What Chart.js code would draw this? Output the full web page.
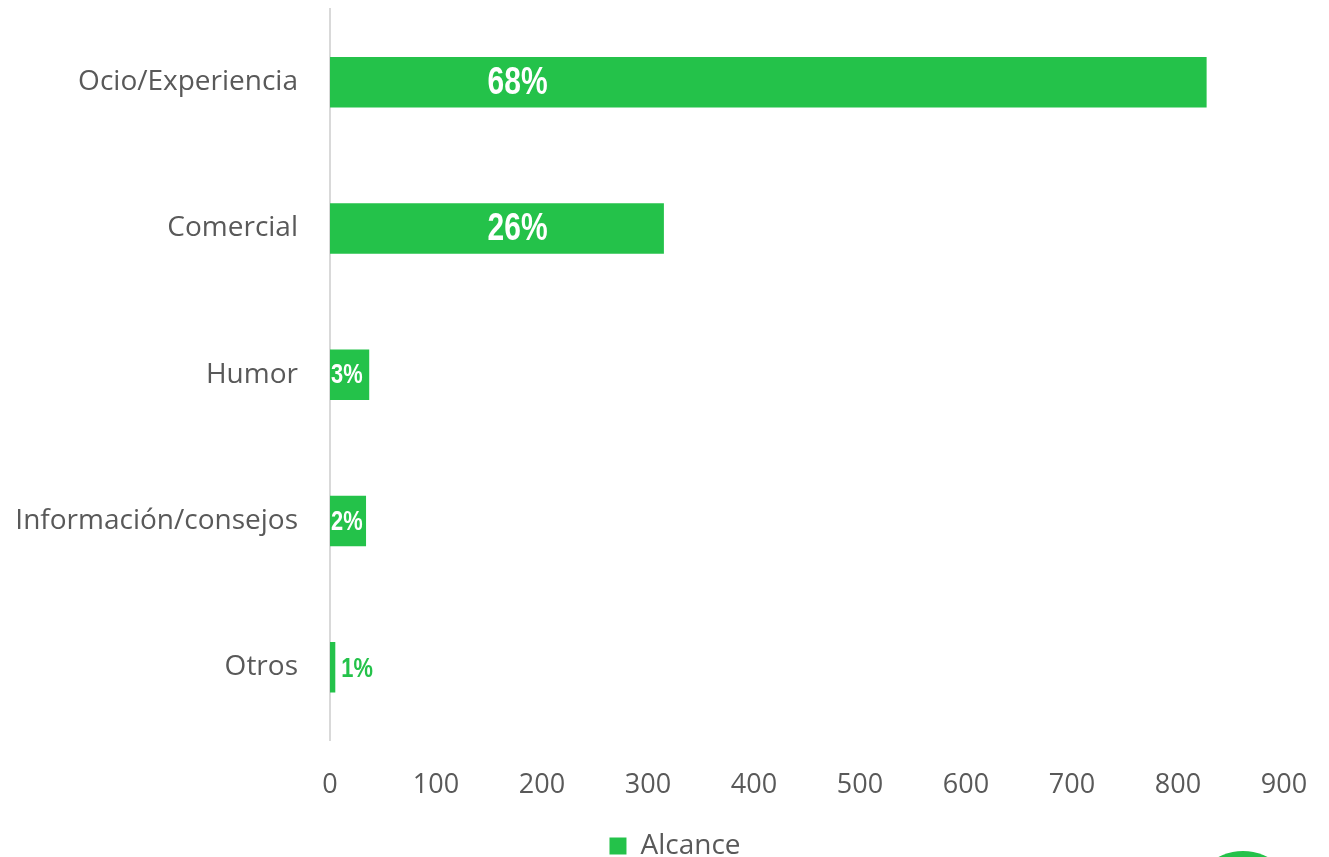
<!DOCTYPE html>
<html>
<head>
<meta charset="utf-8">
<script src="https://cdn.jsdelivr.net/npm/chart.js@4.4.1/dist/chart.umd.min.js"></script>
<style>
  html, body { margin: 0; padding: 0; background: #fff; overflow: hidden; }
  #wrap { position: relative; width: 1329px; height: 857px; }
  #deco { position: absolute; left: 1190px; top: 851px; width: 106px; height: 106px; border-radius: 50%; background: #24C24A; }
</style>
</head>
<body>
<div id="wrap">
  <canvas id="c" width="1329" height="857"></canvas>
  <div id="deco"></div>
</div>
<script>
const categories = ["Ocio/Experiencia", "Comercial", "Humor", "Información/consejos", "Otros"];
const alcance = [827, 315, 37, 34, 5];
const percentLabels = ["68%", "26%", "3%", "2%", "1%"];
const xTicks = [0, 100, 200, 300, 400, 500, 600, 700, 800, 900];
const seriesName = "Alcance";

const GREEN = "#24C24A";
const TEXT = "#595959";
const FAMILY = "'Open Sans', sans-serif";
const LABEL_FAMILY = "'Liberation Sans', Arial, sans-serif";
const LABEL_ANCHOR = 177;
const LEGEND_SHIFT = 33;

function drawSquished(ctx, txt, x, y, size, scaleX, align, color) {
  ctx.save();
  ctx.font = "bold " + size + "px " + LABEL_FAMILY;
  ctx.textBaseline = 'middle';
  ctx.fillStyle = color;
  const w = ctx.measureText(txt).width * scaleX;
  let left = x;
  if (align === 'center') left = x - w / 2;
  ctx.translate(left, y);
  ctx.scale(scaleX, 1);
  ctx.textAlign = 'left';
  ctx.fillText(txt, 0, 0);
  ctx.restore();
  return w;
}

const labelPlugin = {
  id: 'barLabels',
  afterLayout(chart) {
    if (chart.legend) {
      chart.legend.left += LEGEND_SHIFT;
      chart.legend.right += LEGEND_SHIFT;
    }
  },
  afterDatasetsDraw(chart) {
    const ctx = chart.ctx;
    const meta = chart.getDatasetMeta(0);
    const xs = chart.scales.x;
    meta.data.forEach((bar, i) => {
      const txt = percentLabels[i];
      const barW = bar.x - bar.base;
      ctx.save();
      ctx.font = "bold 28px " + LABEL_FAMILY;
      const smallW = ctx.measureText(txt).width * 0.78;
      ctx.restore();
      if (barW > 150) {
        drawSquished(ctx, txt, xs.getPixelForValue(LABEL_ANCHOR), bar.y + 1, 39, 0.77, 'center', '#fff');
      } else if (barW >= smallW) {
        drawSquished(ctx, txt, bar.base + 1, bar.y + 1, 28, 0.78, 'left', '#fff');
      } else {
        drawSquished(ctx, txt, bar.x + 6, bar.y + 2, 28, 0.78, 'left', GREEN);
      }
    });
  }
};

new Chart(document.getElementById('c'), {
  type: 'bar',
  data: {
    labels: categories,
    datasets: [{
      label: seriesName,
      data: alcance,
      backgroundColor: GREEN,
      borderWidth: 0,
      barPercentage: 0.69,
      categoryPercentage: 0.5
    }]
  },
  options: {
    indexAxis: 'y',
    responsive: false,
    animation: false,
    layout: { padding: { left: 0, right: 45, top: 9, bottom: -13 } },
    plugins: {
      legend: {
        position: 'bottom',
        labels: {
          color: TEXT,
          font: { family: FAMILY, size: 28 },
          boxWidth: 17, boxHeight: 17, padding: 0
        }
      },
      tooltip: { enabled: false }
    },
    scales: {
      x: {
        min: 0, max: 900,
        afterBuildTicks(s) { s.ticks = xTicks.map(v => ({ value: v })); },
        afterFit(s) { s.height = 91.5; },
        grid: { display: false, drawTicks: true, tickLength: 28.5 },
        border: { display: false },
        ticks: { color: TEXT, font: { family: FAMILY, size: 27 }, padding: 0 }
      },
      y: {
        afterFit(s) { s.width = 330; },
        grid: { display: false, drawTicks: true, tickLength: 32 },
        border: { display: true, color: '#d9d9d9', width: 2 },
        ticks: { color: TEXT, font: { family: FAMILY, size: 28, lineHeight: 0.6 }, padding: 0 }
      }
    }
  },
  plugins: [labelPlugin]
});
</script>
</body>
</html>
